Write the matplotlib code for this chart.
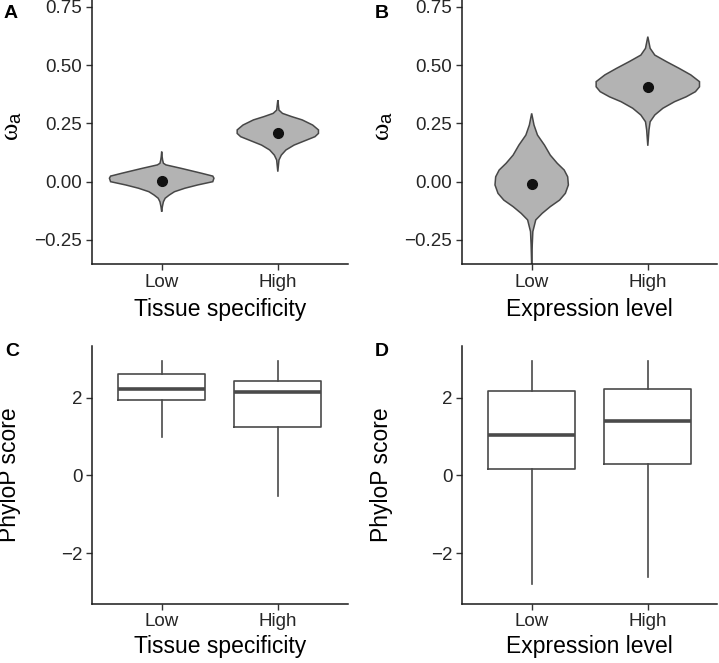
import matplotlib
matplotlib.use("Agg")
import matplotlib.pyplot as plt
import numpy as np

# ---------------- data ----------------
categories = ["Low", "High"]

# Panel A: omega_a violins by tissue specificity (value, half-width in category units)
a_low_y = [0.129, 0.107, 0.093, 0.079, 0.072, 0.057, 0.036, 0.024, 0.015, 0.000,
           -0.014, -0.028, -0.043, -0.057, -0.071, -0.086, -0.107, -0.129]
a_low_w = [0.0, 0.004, 0.008, 0.015, 0.037, 0.17, 0.345, 0.44, 0.45, 0.44,
           0.31, 0.20, 0.11, 0.066, 0.03, 0.015, 0.006, 0.0]
a_high_y = [0.350, 0.329, 0.307, 0.293, 0.279, 0.265, 0.243, 0.222, 0.207, 0.193,
            0.179, 0.157, 0.136, 0.114, 0.093, 0.043]
a_high_w = [0.0, 0.005, 0.01, 0.04, 0.12, 0.21, 0.30, 0.35, 0.35, 0.32,
            0.25, 0.14, 0.07, 0.03, 0.01, 0.0]
tissue_omega = [0.005, 0.207]

# Panel B: omega_a violins by expression level
b_low_y = [0.293, 0.243, 0.200, 0.157, 0.114, 0.079, 0.050, 0.021, -0.014, -0.050,
           -0.079, -0.107, -0.136, -0.164, -0.214, -0.27, -0.36]
b_low_w = [0.0, 0.02, 0.05, 0.11, 0.16, 0.22, 0.28, 0.31, 0.316, 0.29,
           0.24, 0.16, 0.09, 0.035, 0.01, 0.005, 0.0]
b_high_y = [0.622, 0.572, 0.543, 0.515, 0.486, 0.458, 0.429, 0.407, 0.386, 0.364,
            0.343, 0.315, 0.286, 0.257, 0.222, 0.154]
b_high_w = [0.0, 0.02, 0.06, 0.16, 0.27, 0.37, 0.445, 0.445, 0.41, 0.33,
            0.23, 0.13, 0.06, 0.02, 0.01, 0.0]
expr_omega = [-0.010, 0.407]

# Panel C: PhyloP by tissue specificity
c_whislo = [0.98, -0.53]
c_q1 = [1.94, 1.25]
c_med = [2.23, 2.15]
c_q3 = [2.61, 2.42]
c_whishi = [2.95, 2.95]

# Panel D: PhyloP by expression level
d_whislo = [-2.81, -2.61]
d_q1 = [0.17, 0.28]
d_med = [1.05, 1.41]
d_q3 = [2.16, 2.23]
d_whishi = [2.95, 2.95]

omega_ticks = [-0.25, 0.00, 0.25, 0.50, 0.75]
omega_ticklabels = ["\u22120.25", "0.00", "0.25", "0.50", "0.75"]
phylo_ticks = [-2, 0, 2]
phylo_ticklabels = ["\u22122", "0", "2"]

# ---------------- style ----------------
plt.rcParams["font.family"] = ["Liberation Sans", "DejaVu Sans"]
plt.rcParams["mathtext.fontset"] = "custom"
plt.rcParams["mathtext.rm"] = "Liberation Serif"
plt.rcParams["mathtext.it"] = "Liberation Serif:italic"
plt.rcParams["mathtext.sf"] = "Liberation Sans"

W, H = 719, 663
fig = plt.figure(figsize=(W / 100, H / 100), dpi=100)

SPINE = "#1a1a1a"
TICKTXT = "#262626"
VFILL = "#b3b3b3"
VEDGE = "#474747"
BOXC = "#4a4a4a"
TICKSIZE = 13.5
TITLE = 16.5


def rect(x0, y_top, x1, y_bot):
    return [x0 / W, 1 - y_bot / H, (x1 - x0) / W, (y_bot - y_top) / H]


def style(ax):
    for s in ["top", "right"]:
        ax.spines[s].set_visible(False)
    for s in ["left", "bottom"]:
        ax.spines[s].set_color(SPINE)
        ax.spines[s].set_linewidth(1.1)
    ax.tick_params(axis="both", length=4, width=1.0, color="#333333",
                   labelsize=TICKSIZE, labelcolor=TICKTXT, pad=3)
    ax.set_xlim(0.4, 2.6)
    ax.set_xticks([1, 2])
    ax.set_xticklabels(categories)


def violin(ax, pos, ys, ws):
    ys = np.asarray(ys)
    ws = np.asarray(ws)
    xs = np.concatenate([pos + ws, (pos - ws)[::-1]])
    yy = np.concatenate([ys, ys[::-1]])
    ax.fill(xs, yy, facecolor=VFILL, edgecolor=VEDGE, linewidth=1.1, zorder=2)


def boxes(ax, whislo, q1, med, q3, whishi):
    stats = []
    for i in range(len(categories)):
        stats.append(dict(med=med[i], q1=q1[i], q3=q3[i], whislo=whislo[i],
                          whishi=whishi[i], fliers=[], label=categories[i]))
    ax.bxp(stats, positions=[1, 2], widths=0.75, showcaps=False, showfliers=False,
           patch_artist=False,
           boxprops=dict(color=BOXC, linewidth=1.2),
           whiskerprops=dict(color=BOXC, linewidth=1.2),
           medianprops=dict(color=BOXC, linewidth=2.6, solid_capstyle="butt"))


# Panel A
axA = fig.add_axes(rect(92, -1, 347.5, 264))
style(axA)
violin(axA, 1, a_low_y, a_low_w)
violin(axA, 2, a_high_y, a_high_w)
axA.plot([1, 2], tissue_omega, "o", color="#111111", markersize=7, zorder=3)
axA.set_ylim(-0.353, 0.7835)
axA.set_yticks(omega_ticks)
axA.set_yticklabels(omega_ticklabels)

# Panel B
axB = fig.add_axes(rect(462, -1, 717.5, 264))
style(axB)
violin(axB, 1, b_low_y, b_low_w)
violin(axB, 2, b_high_y, b_high_w)
axB.plot([1, 2], expr_omega, "o", color="#111111", markersize=7, zorder=3)
axB.set_ylim(-0.353, 0.7835)
axB.set_yticks(omega_ticks)
axB.set_yticklabels(omega_ticklabels)

# Panel C
axC = fig.add_axes(rect(92, 346.4, 347.5, 603.5))
style(axC)
boxes(axC, c_whislo, c_q1, c_med, c_q3, c_whishi)
axC.set_ylim(-3.30, 3.32)
axC.set_yticks(phylo_ticks)
axC.set_yticklabels(phylo_ticklabels)
axC.set_xlim(0.4, 2.6)
axC.set_xticks([1, 2])
axC.set_xticklabels(categories)

# Panel D
axD = fig.add_axes(rect(462, 346.4, 717.5, 603.5))
style(axD)
boxes(axD, d_whislo, d_q1, d_med, d_q3, d_whishi)
axD.set_ylim(-3.30, 3.32)
axD.set_yticks(phylo_ticks)
axD.set_yticklabels(phylo_ticklabels)
axD.set_xlim(0.4, 2.6)
axD.set_xticks([1, 2])
axD.set_xticklabels(categories)

# axis titles
for ax, lab in [(axA, "Tissue specificity"), (axB, "Expression level"),
                (axC, "Tissue specificity"), (axD, "Expression level")]:
    ax.set_xlabel(lab, fontsize=TITLE, color="black", va="center")

axA.xaxis.set_label_coords(0.5, (264 - 310) / 265)
axB.xaxis.set_label_coords(0.5, (264 - 310) / 265)
axC.xaxis.set_label_coords(0.5, (603.5 - 647) / 257.1)
axD.xaxis.set_label_coords(0.5, (603.5 - 647) / 257.1)

omega_lab = r"$\mathrm{\omega}_{\mathsf{a}}$"
axA.set_ylabel(omega_lab, fontsize=19, color="black", va="center")
axB.set_ylabel(omega_lab, fontsize=19, color="black", va="center")
axA.yaxis.set_label_coords((12 - 92) / 255.5, 0.52)
axB.yaxis.set_label_coords((383 - 462) / 255.5, 0.52)

axC.set_ylabel("PhyloP score", fontsize=TITLE, color="black", va="center")
axD.set_ylabel("PhyloP score", fontsize=TITLE, color="black", va="center")
axC.yaxis.set_label_coords((10 - 92) / 255.5, 0.5)
axD.yaxis.set_label_coords((381 - 462) / 255.5, 0.5)

# panel letters
for lab, (px, py) in {"A": (11, 13), "B": (382, 13), "C": (12, 351), "D": (382, 351)}.items():
    fig.text(px / W, 1 - py / H, lab, fontsize=14, fontweight="bold",
             ha="center", va="center", color="black")

fig.savefig("out.png", dpi=100)
